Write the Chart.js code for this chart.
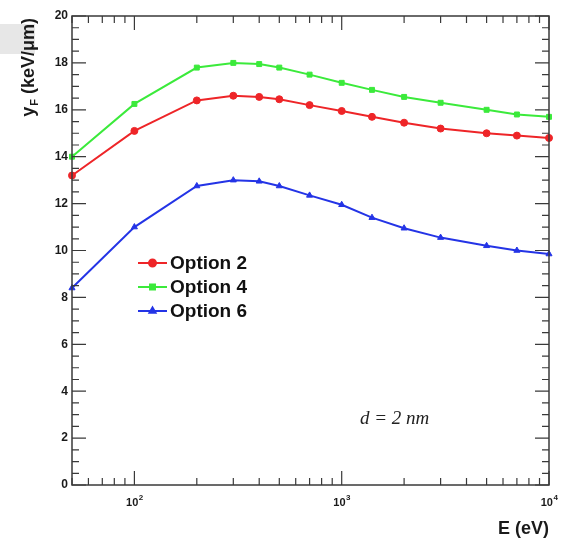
<!DOCTYPE html>
<html>
<head>
<meta charset="utf-8">
<script src="https://cdn.jsdelivr.net/npm/chart.js@4.4.0/dist/chart.umd.min.js"></script>
<style>
  body { margin: 0; background: #fff; }
  #chart { display: block; }
</style>
</head>
<body>
<canvas id="chart" width="565" height="552"></canvas>
<script>
// energies in eV
const energies = [50, 100, 200, 300, 400, 500, 700, 1000, 1400, 2000, 3000, 5000, 7000, 10000];
const option2 = [13.2, 15.1, 16.4, 16.6, 16.55, 16.45, 16.2, 15.95, 15.7, 15.45, 15.2, 15.0, 14.9, 14.8];
const option4 = [14.0, 16.25, 17.8, 18.0, 17.95, 17.8, 17.5, 17.15, 16.85, 16.55, 16.3, 16.0, 15.8, 15.7];
const option6 = [8.4, 11.0, 12.75, 13.0, 12.95, 12.75, 12.35, 11.95, 11.4, 10.95, 10.55, 10.2, 10.0, 9.85];
const seriesNames = ['Option 2', 'Option 4', 'Option 6'];
const yTicks = [0, 2, 4, 6, 8, 10, 12, 14, 16, 18, 20];
const xDecades = [100, 1000, 10000];
const xExponents = ['2', '3', '4'];

const colors = ['#ee2528', '#3bea3b', '#2434e6'];
const markers = ['circle', 'rect', 'triangle'];
const frameColor = '#3a3a3a';

function toPoints(vals) {
  return vals.map((v, i) => ({ x: energies[i], y: v }));
}

const rootAxes = {
  id: 'rootAxes',
  afterDraw(chart) {
    const ctx = chart.ctx;
    const a = chart.chartArea;
    const xs = chart.scales.x, ys = chart.scales.y;
    ctx.save();

    // gray strip at left
    ctx.fillStyle = '#e7e7e7';
    ctx.fillRect(0, 24, 35, 30);

    ctx.strokeStyle = frameColor;
    ctx.lineWidth = 1.5;
    ctx.strokeRect(a.left, a.top, a.right - a.left, a.bottom - a.top);

    ctx.lineWidth = 1.2;
    ctx.beginPath();
    // y ticks, left and right
    for (let i = 0; i < yTicks.length; i++) {
      const py = ys.getPixelForValue(yTicks[i]);
      ctx.moveTo(a.left, py); ctx.lineTo(a.left + 14, py);
      ctx.moveTo(a.right, py); ctx.lineTo(a.right - 14, py);
      if (i < yTicks.length - 1) {
        for (let k = 1; k < 4; k++) {
          const my = ys.getPixelForValue(yTicks[i] + (yTicks[i + 1] - yTicks[i]) * k / 4);
          ctx.moveTo(a.left, my); ctx.lineTo(a.left + 7, my);
          ctx.moveTo(a.right, my); ctx.lineTo(a.right - 7, my);
        }
      }
    }
    // x ticks, bottom and top
    for (let d = 10; d < 10000; d *= 10) {
      for (let m = 1; m <= 10; m++) {
        const v = d * m;
        if (v < xs.min || v > xs.max) continue;
        const px = xs.getPixelForValue(v);
        const len = (m === 10 || m === 1) ? 14 : 7;
        ctx.moveTo(px, a.bottom); ctx.lineTo(px, a.bottom - len);
        ctx.moveTo(px, a.top); ctx.lineTo(px, a.top + len);
      }
    }
    ctx.stroke();

    // y tick labels
    ctx.fillStyle = '#1a1a1a';
    ctx.font = 'bold 12px "Liberation Sans", Arial, sans-serif';
    ctx.textAlign = 'right';
    ctx.textBaseline = 'middle';
    yTicks.forEach(t => {
      ctx.fillText(String(t), a.left - 4, ys.getPixelForValue(t));
    });

    // x tick labels 10^n
    xDecades.forEach((v, i) => {
      const px = xs.getPixelForValue(v);
      ctx.font = 'bold 11px "Liberation Sans", Arial, sans-serif';
      const w1 = ctx.measureText('10').width;
      ctx.font = 'bold 8px "Liberation Sans", Arial, sans-serif';
      const w2 = ctx.measureText(xExponents[i]).width;
      const x0 = px - (w1 + w2) / 2;
      ctx.textAlign = 'left';
      ctx.textBaseline = 'alphabetic';
      ctx.font = 'bold 11px "Liberation Sans", Arial, sans-serif';
      ctx.fillText('10', x0, a.bottom + 21);
      ctx.font = 'bold 8px "Liberation Sans", Arial, sans-serif';
      ctx.fillText(xExponents[i], x0 + w1 + 0.5, a.bottom + 15);
    });

    // x title
    ctx.font = 'bold 18px "Liberation Sans", Arial, sans-serif';
    ctx.textAlign = 'right';
    ctx.textBaseline = 'alphabetic';
    ctx.fillText('E (eV)', a.right, 534);

    // y title, rotated
    ctx.save();
    ctx.translate(34, a.top);
    ctx.rotate(-Math.PI / 2);
    ctx.textAlign = 'right';
    ctx.font = 'bold 18px "Liberation Sans", Arial, sans-serif';
    const rest = ' (keV/\u03bcm)';
    const wRest = ctx.measureText(rest).width;
    ctx.fillText(rest, -2, 0);
    ctx.font = 'bold 11px "Liberation Sans", Arial, sans-serif';
    const wF = ctx.measureText('F').width;
    ctx.fillText('F', -2 - wRest, 4);
    ctx.font = 'bold 18px "Liberation Sans", Arial, sans-serif';
    ctx.fillText('y', -2 - wRest - wF - 1, 0);
    ctx.restore();

    // legend
    const lx = 138, ly = 263, gap = 24;
    chart.data.datasets.forEach((ds, i) => {
      const y = ly + i * gap;
      ctx.strokeStyle = ds.borderColor;
      ctx.lineWidth = 2;
      ctx.beginPath();
      ctx.moveTo(lx, y); ctx.lineTo(lx + 29, y);
      ctx.stroke();
      ctx.fillStyle = ds.borderColor;
      Chart.helpers.drawPoint(ctx, { pointStyle: ds.pointStyle, radius: 3.5, borderWidth: 1 }, lx + 14.5, y);
      ctx.fillStyle = '#111';
      ctx.font = 'bold 19px "Liberation Sans", Arial, sans-serif';
      ctx.textAlign = 'left';
      ctx.textBaseline = 'middle';
      ctx.fillText(ds.label, lx + 32, y + 1);
    });

    // annotation
    ctx.fillStyle = '#222';
    ctx.font = 'italic 19px "Liberation Serif", "Times New Roman", serif';
    ctx.textAlign = 'left';
    ctx.textBaseline = 'middle';
    ctx.fillText('d = 2 nm', 360, 419);

    ctx.restore();
  }
};

const seriesValues = [option2, option4, option6];

new Chart(document.getElementById('chart'), {
  type: 'line',
  data: {
    datasets: seriesValues.map((vals, i) => ({
      label: seriesNames[i],
      data: toPoints(vals),
      borderColor: colors[i],
      backgroundColor: colors[i],
      borderWidth: 2,
      pointStyle: markers[i],
      pointRadius: 3.5,
      pointBorderWidth: 1,
      tension: 0,
      clip: false
    }))
  },
  options: {
    responsive: false,
    animation: false,
    layout: { padding: { left: 72, right: 16, top: 16, bottom: 67 } },
    plugins: { legend: { display: false }, tooltip: { enabled: false } },
    scales: {
      x: { type: 'logarithmic', min: 50, max: 10000, display: false },
      y: { type: 'linear', min: 0, max: 20, display: false }
    }
  },
  plugins: [rootAxes]
});
</script>
</body>
</html>
